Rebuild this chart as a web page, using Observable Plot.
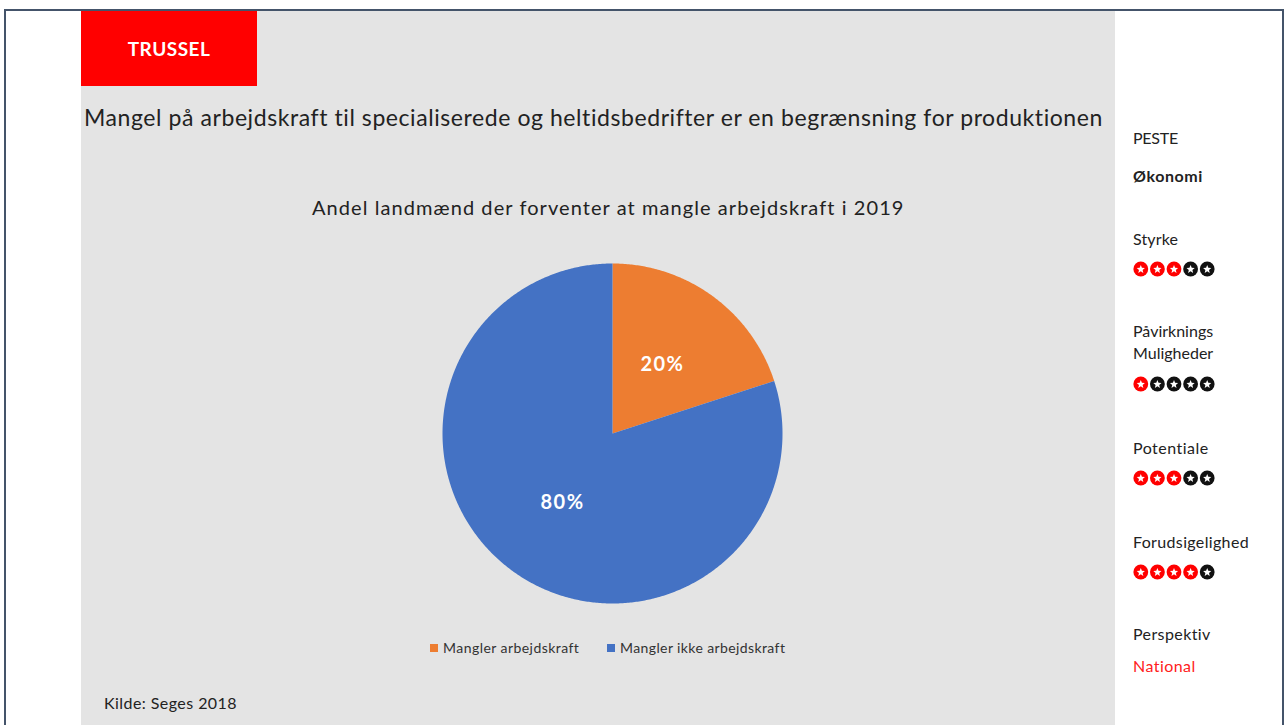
<!DOCTYPE html>
<html>
<head>
<meta charset="utf-8">
<script src="https://cdn.jsdelivr.net/npm/d3@7"></script>
<script src="https://cdn.jsdelivr.net/npm/@observablehq/plot@0.6"></script>
<style>
  html, body { margin: 0; padding: 0; background: #ffffff; }
  body { width: 1288px; height: 725px; position: relative; overflow: hidden; font-family: Lato, "Open Sans", sans-serif; color: #222; }
  .abs { position: absolute; white-space: nowrap; }
  #frame { position: absolute; left: 4px; top: 9px; width: 1280px; height: 740px; border: 2px solid #44546a; box-sizing: border-box; }
  #panel { position: absolute; left: 81px; top: 11px; width: 1034px; height: 714px; background: #e4e4e4; }
  #tag { position: absolute; left: 81px; top: 11px; width: 176px; height: 75px; background: #ff0000; color: #fff; font-weight: bold; font-size: 19px; display: flex; align-items: center; justify-content: center; letter-spacing: 0.5px; }
  .side { font-size: 16px; color: #222; }
  #chart { position: absolute; left: 411.5px; top: 232.5px; }
  .legend { font-size: 14px; color: #333; display: flex; align-items: center; }
  .sw { display: inline-block; width: 8px; height: 8px; margin-right: 5px; }
</style>
</head>
<body>
<div id="frame"></div>
<div id="panel"></div>
<div id="tag">TRUSSEL</div>
<div class="abs fit" data-w="1019" style="left:84px; top:103px; font-size:23px;">Mangel på arbejdskraft til specialiserede og heltidsbedrifter er en begrænsning for produktionen</div>
<div class="abs fit" data-w="592" style="left:312px; top:195px; font-size:20px;">Andel landmænd der forventer at mangle arbejdskraft i 2019</div>
<div id="chart"></div>
<div id="legend" class="abs legend" style="left:430px; top:639px;"></div>
<div class="abs fit" data-w="133" style="left:104px; top:693px; font-size:16px;">Kilde: Seges 2018</div>
<div id="side"></div>
<script>
// ---- data ----
const categories = ["Mangler arbejdskraft", "Mangler ikke arbejdskraft"];
const shares = [20, 80];
const sliceColors = ["#ed7d31", "#4472c4"];
const valueLabels = ["20%", "80%"];

const sideHeader = "PESTE";
const sideCategory = "Økonomi";
const ratingNames = ["Styrke", "Påvirknings\nMuligheder", "Potentiale", "Forudsigelighed"];
const ratingValues = [3, 1, 3, 4];
const ratingMax = 5;
const perspectiveLabel = "Perspektiv";
const perspectiveValue = "National";

// ---- pie geometry from data ----
const pie = d3.pie().sort(null).value(d => d.value)(categories.map((c, i) => ({key: c, value: shares[i], label: valueLabels[i]})));
const outline = [];
pie.forEach(a => {
  outline.push({key: a.data.key, x: 0, y: 0});
  const n = Math.max(2, Math.ceil((a.endAngle - a.startAngle) / (Math.PI / 360)));
  for (let k = 0; k <= n; k++) {
    const t = a.startAngle + (a.endAngle - a.startAngle) * k / n;
    outline.push({key: a.data.key, x: Math.sin(t), y: Math.cos(t)});
  }
  outline.push({key: a.data.key, x: 0, y: 0});
});
const labelPts = pie.map(a => {
  const t = (a.startAngle + a.endAngle) / 2;
  return {x: 0.5 * Math.sin(t), y: 0.5 * Math.cos(t), text: a.data.label};
});

const plot = Plot.plot({
  width: 400, height: 400,
  margin: 30,
  x: {domain: [-1, 1], axis: null},
  y: {domain: [-1, 1], axis: null},
  color: {domain: categories, range: sliceColors},
  style: {background: "transparent"},
  marks: [
    Plot.line(outline, {x: "x", y: "y", z: "key", fill: "key", stroke: "none", curve: "linear-closed"}),
    Plot.text(labelPts, {x: "x", y: "y", text: "text", fill: "white", fontWeight: "bold", fontSize: 20, fontFamily: "Lato, sans-serif", style: "letter-spacing:1.5px"})
  ]
});
plot.querySelectorAll("text").forEach(t => t.style.letterSpacing = "1.5px");
document.getElementById("chart").appendChild(plot);

// ---- legend ----
const leg = document.getElementById("legend");
const legW = [136, 165];
categories.forEach((c, i) => {
  const item = document.createElement("span");
  item.style.display = "inline-flex"; item.style.alignItems = "center";
  item.style.position = "absolute"; item.style.left = (i === 0 ? 0 : 177) + "px"; item.style.top = "0";
  item.innerHTML = `<span class="sw" style="background:${sliceColors[i]}"></span><span class="fit" data-w="${legW[i]}">${c}</span>`;
  leg.appendChild(item);
});

// ---- side panel ----
function starIcons(v) {
  let s = `<svg width="${ratingMax * 17}" height="17" style="display:block">`;
  for (let i = 0; i < ratingMax; i++) {
    const cx = 7.8 + i * 16.6, cy = 8, col = i < v ? "#ff0000" : "#111";
    s += `<circle cx="${cx}" cy="${cy}" r="7.4" fill="${col}"/>`;
    const pts = d3.range(10).map(k => {
      const ang = -Math.PI / 2 + k * Math.PI / 5, r = k % 2 ? 1.9 : 4.3;
      return [cx + r * Math.cos(ang), cy + 0.4 + r * Math.sin(ang)].join(",");
    }).join(" ");
    s += `<polygon points="${pts}" fill="#fff"/>`;
  }
  return s + "</svg>";
}
const side = document.getElementById("side");
const tops = {header: 128, cat: 166, ratings: [228, 320, 437, 531], icons: [261, 376, 470, 564], persp: 624, perspVal: 656};
side.innerHTML += `<div class="abs side fit" data-w="45" style="left:1133px; top:${tops.header}px;">${sideHeader}</div>`;
side.innerHTML += `<div class="abs side fit" data-w="70" style="left:1133px; top:${tops.cat}px; font-weight:bold;">${sideCategory}</div>`;
const nameW = [45, 84, 76, 116];
ratingNames.forEach((n, i) => {
  side.innerHTML += `<div class="abs side" style="left:1133px; top:${tops.ratings[i]}px; line-height:22px;">${n.split("\n").map(p => `<div><span class="fit" data-w="${n.includes("\n") ? 0 : nameW[i]}">${p}</span></div>`).join("")}</div>`;
  side.innerHTML += `<div class="abs" style="left:1133px; top:${tops.icons[i]}px;">${starIcons(ratingValues[i])}</div>`;
});
side.innerHTML += `<div class="abs side fit" data-w="78" style="left:1133px; top:${tops.persp}px;">${perspectiveLabel}</div>`;
side.innerHTML += `<div class="abs side fit" data-w="63" style="left:1133px; top:${tops.perspVal}px; color:#ff2020;">${perspectiveValue}</div>`;

// ---- fit text widths by letter spacing ----
document.querySelectorAll(".fit").forEach(el => {
  const target = +el.dataset.w;
  if (!target) return;
  const w = el.getBoundingClientRect().width;
  const n = el.textContent.length;
  el.style.letterSpacing = ((target - w) / n) + "px";
});
</script>
</body>
</html>
